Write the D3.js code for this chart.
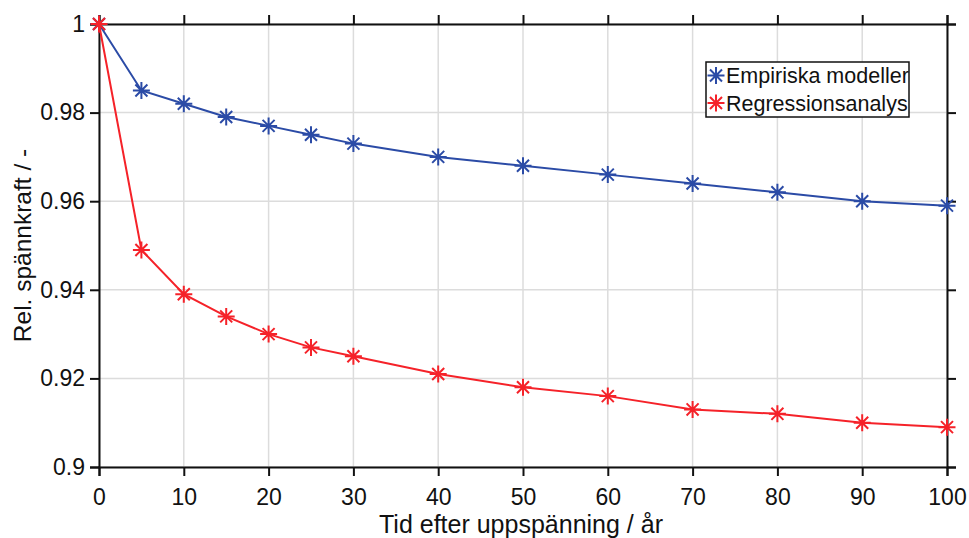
<!DOCTYPE html>
<html>
<head>
<meta charset="utf-8">
<script src="https://cdn.jsdelivr.net/npm/d3@7"></script>
<style>
  body { margin: 0; background: #fff; }
  text { font-family: "Liberation Sans", Arial, sans-serif; fill: #111; }
</style>
</head>
<body>
<div id="chart"></div>
<script>
// data
var years = [0, 5, 10, 15, 20, 25, 30, 40, 50, 60, 70, 80, 90, 100];
var empiriska = [1, 0.985, 0.982, 0.979, 0.977, 0.975, 0.973, 0.970, 0.968, 0.966, 0.964, 0.962, 0.960, 0.959];
var regression = [1, 0.949, 0.939, 0.934, 0.930, 0.927, 0.925, 0.921, 0.918, 0.916, 0.913, 0.912, 0.910, 0.909];
var xTicks = [0, 10, 20, 30, 40, 50, 60, 70, 80, 90, 100];
var yTicks = [0.9, 0.92, 0.94, 0.96, 0.98, 1];
var seriesNames = ["Empiriska modeller", "Regressionsanalys"];
var colors = ["#2b4ba6", "#f52229"];

var W = 969, H = 538;
var margin = {top: 24, right: 22, bottom: 71, left: 99},
    width = W - margin.left - margin.right,
    height = H - margin.top - margin.bottom;

var svg = d3.select("#chart")
  .append("svg")
  .attr("width", W)
  .attr("height", H)
  .append("g")
  .attr("transform", "translate(" + margin.left + "," + margin.top + ")");

var x = d3.scaleLinear().domain([0, 100]).range([0, width]);
var y = d3.scaleLinear().domain([0.9, 1]).range([height, 0]);

// grid
svg.append("g")
  .selectAll("line")
  .data(xTicks)
  .enter().append("line")
    .attr("x1", function(d) { return x(d); })
    .attr("x2", function(d) { return x(d); })
    .attr("y1", 0).attr("y2", height)
    .style("stroke", "#dcdcdc").style("stroke-width", 1.5);
svg.append("g")
  .selectAll("line")
  .data(yTicks)
  .enter().append("line")
    .attr("y1", function(d) { return y(d); })
    .attr("y2", function(d) { return y(d); })
    .attr("x1", 0).attr("x2", width)
    .style("stroke", "#dcdcdc").style("stroke-width", 1.5);

// axes, ticks outward on all four sides
var fmt = function(d) { return d3.format("")(+d.toFixed(2)); };
var xAx = svg.append("g")
  .attr("transform", "translate(0," + height + ")")
  .call(d3.axisBottom(x).tickValues(xTicks).tickSize(9).tickPadding(13));
var xTop = svg.append("g")
  .call(d3.axisTop(x).tickValues(xTicks).tickSize(9).tickFormat(""));
var yAx = svg.append("g")
  .call(d3.axisLeft(y).tickValues(yTicks).tickSize(9).tickPadding(5).tickFormat(fmt));
var yRight = svg.append("g")
  .attr("transform", "translate(" + width + ",0)")
  .call(d3.axisRight(y).tickValues(yTicks).tickSize(9).tickFormat(""));

[xAx, xTop, yAx, yRight].forEach(function(g) {
  g.select(".domain").style("stroke", "#111").style("stroke-width", 2);
  g.selectAll(".tick line").style("stroke", "#111").style("stroke-width", 2);
  g.selectAll(".tick text")
    .style("font-family", "'Liberation Sans', Arial, sans-serif")
    .style("font-size", "23px")
    .style("fill", "#111");
});

// asterisk marker path
function asterisk(r) {
  var d = r * Math.SQRT1_2;
  return "M0," + (-r) + "V" + r + "M" + (-r) + ",0H" + r +
         "M" + (-d) + "," + (-d) + "L" + d + "," + d +
         "M" + (-d) + "," + d + "L" + d + "," + (-d);
}

var allSeries = [empiriska, regression];
var line = d3.line()
  .x(function(d, i) { return x(years[i]); })
  .y(function(d) { return y(d); });

// draw blue first, red on top
allSeries.forEach(function(vals, k) {
  svg.append("path")
    .datum(vals)
    .attr("d", line)
    .style("fill", "none")
    .style("stroke", colors[k])
    .style("stroke-width", 2);
  svg.append("g")
    .selectAll("path")
    .data(vals)
    .enter().append("path")
      .attr("transform", function(d, i) { return "translate(" + x(years[i]) + "," + y(d) + ")"; })
      .attr("d", asterisk(8.5))
      .style("stroke", colors[k])
      .style("stroke-width", 2)
      .style("fill", "none");
});

// legend
var legend = svg.append("g").attr("transform", "translate(" + (706 - margin.left) + "," + (62 - margin.top) + ")");
legend.append("rect")
  .attr("width", 203).attr("height", 55)
  .style("fill", "#fff").style("stroke", "#111").style("stroke-width", 1.5);
seriesNames.forEach(function(name, k) {
  var row = legend.append("g").attr("transform", "translate(0," + (13.5 + k * 27.5) + ")");
  row.append("path")
    .attr("transform", "translate(10,0)")
    .attr("d", asterisk(8.5))
    .style("stroke", colors[k]).style("stroke-width", 2);
  row.append("text")
    .attr("x", 20).attr("y", 7.5)
    .style("font-size", "21.5px")
    .text(name);
});

// axis labels
svg.append("text")
  .attr("x", width / 2 - 2)
  .attr("y", 533 - margin.top)
  .style("text-anchor", "middle")
  .style("font-size", "25px")
  .text("Tid efter uppspänning / år");

svg.append("text")
  .attr("transform", "rotate(-90)")
  .attr("x", -(y(0.95)))
  .attr("y", 31 - margin.left)
  .style("text-anchor", "middle")
  .style("font-size", "24.5px")
  .text("Rel. spännkraft / -");
</script>
</body>
</html>
